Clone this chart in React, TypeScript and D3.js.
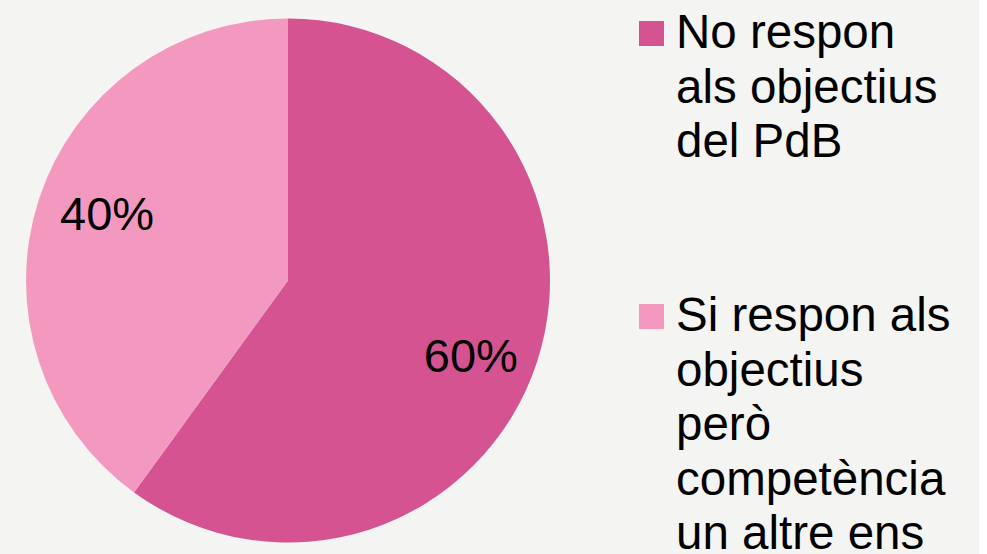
import React, { useEffect } from "react";
import * as d3 from "d3";

const categories = ["No respon als objectius del PdB", "Si respon als objectius però competència un altre ens"];
const values = [60, 40];
const labels = ["60%", "40%"];
const legendLines = [
  ["No respon", "als objectius", "del PdB"],
  ["Si respon als", "objectius", "però", "competència", "un altre ens"],
];
const colors = ["#d45390", "#f399c0"];

const W = 987;
const H = 554;
const cx = 288;
const cy = 280.5;
const R = 262;

export default function App() {
  useEffect(() => {
    document.body.style.margin = "0";
  }, []);

  const pie = d3.pie<number>().sort(null).value((d) => d)(values);
  const arc = d3.arc<d3.PieArcDatum<number>>().innerRadius(0).outerRadius(R);
  const labelArc = d3.arc<d3.PieArcDatum<number>>().innerRadius(R * 0.75).outerRadius(R * 0.75);

  const font = "'Liberation Sans', Arial, sans-serif";
  const legendStarts = [48, 331];
  const lineH = 54.5;

  return (
    <svg width={W} height={H} style={{ display: "block" }}>
      <rect x={0} y={0} width={979} height={H} fill="#f4f4f2" />
      <g transform={`translate(${cx},${cy})`}>
        {pie.map((p, i) => (
          <path key={i} d={arc(p) || ""} fill={colors[i]} />
        ))}
        {pie.map((p, i) => {
          const [x, y] = labelArc.centroid(p);
          return (
            <text
              key={i}
              x={x + (i === 0 ? -4 : 6)}
              y={y + (i === 0 ? 14 : -6)}
              dy="0.35em"
              textAnchor="middle"
              fontFamily={font}
              fontSize={47}
              fill="#000"
            >
              {labels[i]}
            </text>
          );
        })}
      </g>
      {categories.map((c, i) => (
        <g key={c}>
          <rect x={639} y={legendStarts[i] - 27} width={25} height={25} fill={colors[i]} />
          <text fontFamily={font} fontSize={47.5} fill="#000">
            {legendLines[i].map((l, j) => (
              <tspan key={j} x={676} y={legendStarts[i] + j * lineH}>
                {l}
              </tspan>
            ))}
          </text>
        </g>
      ))}
    </svg>
  );
}
